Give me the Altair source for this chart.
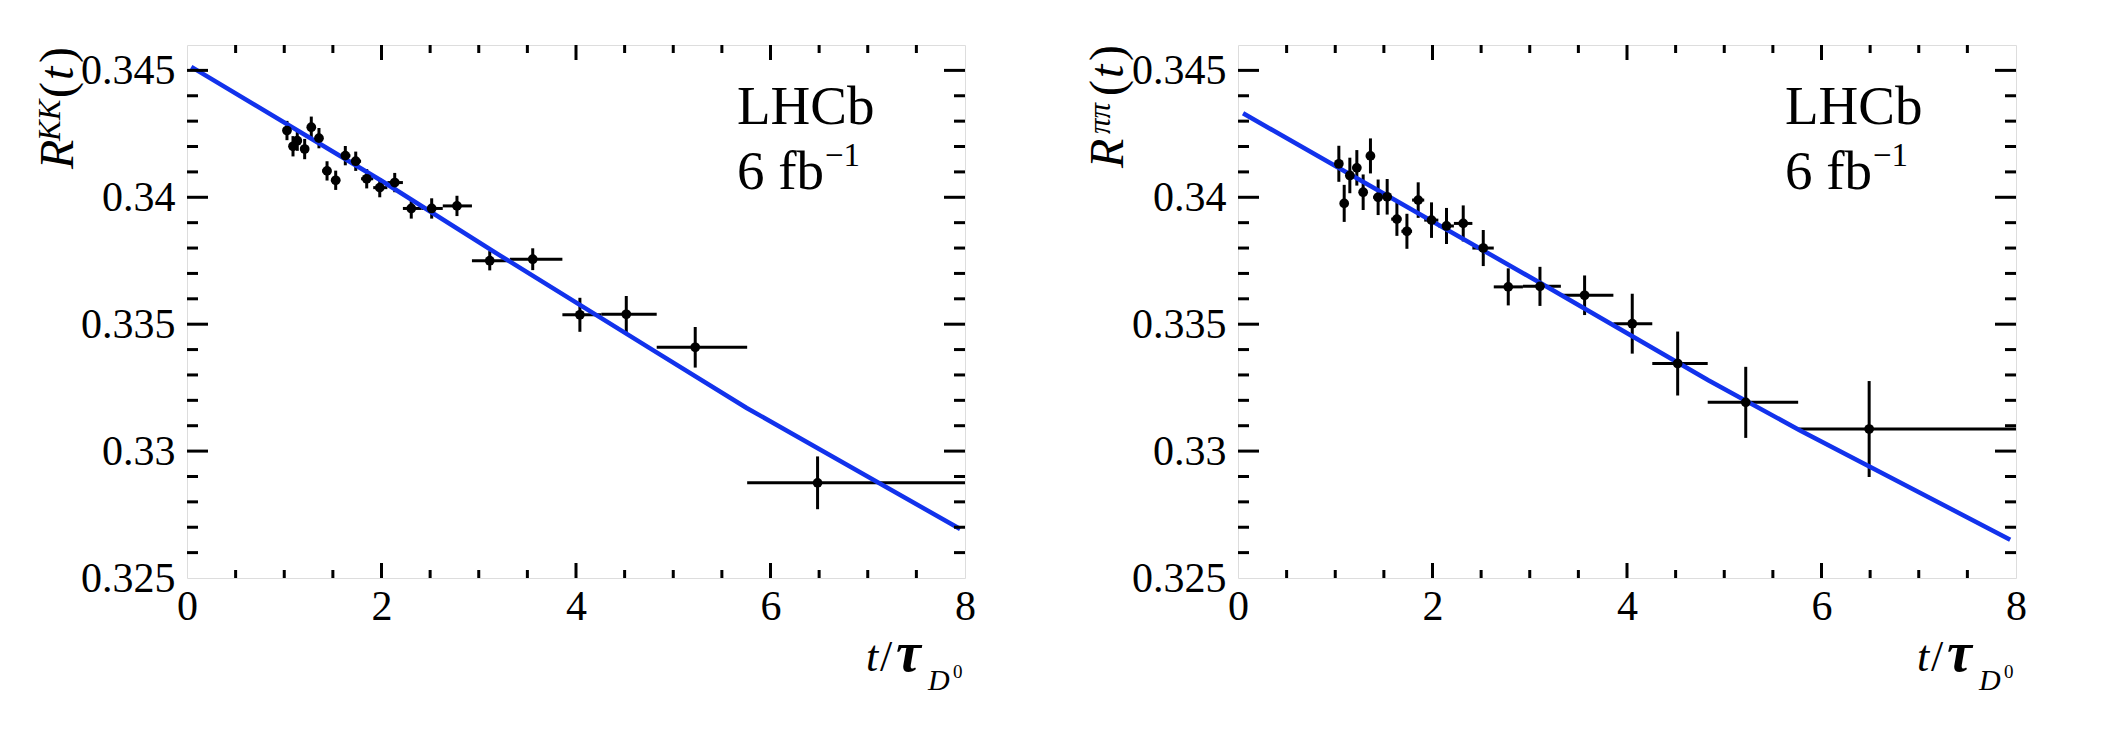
import altair as alt
import pandas as pd

# ---------------- data ----------------
bin_edges = [1.00, 1.06, 1.12, 1.18, 1.245, 1.315, 1.39, 1.48, 1.575, 1.68, 1.79,
             1.915, 2.06, 2.22, 2.41, 2.63, 2.93, 3.32, 3.86, 4.26, 4.83, 5.76, 8.0]

kk_t = [1.028, 1.090, 1.134, 1.210, 1.278, 1.357, 1.440, 1.529, 1.628, 1.735, 1.848,
        1.982, 2.136, 2.306, 2.516, 2.776, 3.113, 3.555, 4.040, 4.517, 5.226, 6.484]
kk_r = [0.34263, 0.34201, 0.34223, 0.34190, 0.34276, 0.34233, 0.34104, 0.34067, 0.34164,
        0.34142, 0.34073, 0.34038, 0.34058, 0.33956, 0.33956, 0.33966, 0.33750, 0.33756,
        0.33537, 0.33539, 0.33409, 0.32875]
kk_err = [0.00038, 0.00040, 0.00040, 0.00040, 0.00042, 0.00040, 0.00038, 0.00038, 0.00038,
          0.00038, 0.00038, 0.00038, 0.00038, 0.00040, 0.00040, 0.00040, 0.00038, 0.00043,
          0.00067, 0.00072, 0.00080, 0.00104]

pp_t = [1.037, 1.092, 1.150, 1.222, 1.287, 1.362, 1.441, 1.534, 1.634, 1.737, 1.853,
        1.990, 2.144, 2.316, 2.522, 2.779, 3.105, 3.564, 4.054, 4.521, 5.221, 6.490]
pp_r = [0.34132, 0.33976, 0.34086, 0.34116, 0.34020, 0.34163, 0.34000, 0.34002, 0.33914,
        0.33866, 0.33989, 0.33910, 0.33887, 0.33897, 0.33800, 0.33647, 0.33649, 0.33614,
        0.33502, 0.33345, 0.33192, 0.33087]
pp_err = [0.00071, 0.00073, 0.00070, 0.00070, 0.00070, 0.00069, 0.00070, 0.00070, 0.00066,
          0.00069, 0.00070, 0.00070, 0.00071, 0.00071, 0.00071, 0.00073, 0.00077, 0.00078,
          0.00118, 0.00126, 0.00140, 0.00189]

kk_fit_t = [0.044, 2.0, 3.2, 4.845, 5.755, 7.95]
kk_fit_r = [0.34514, 0.34065, 0.33775, 0.33385, 0.33170, 0.32693]
pp_fit_t = [0.052, 3.105, 4.836, 5.78, 7.94]
pp_fit_r = [0.34331, 0.33663, 0.33279, 0.33081, 0.32651]

x_labels = [0, 2, 4, 6, 8]
x_major = [2, 4, 6]
x_minor = [0.5, 1, 1.5, 2.5, 3, 3.5, 4.5, 5, 5.5, 6.5, 7, 7.5]
y_labels = [0.325, 0.33, 0.335, 0.34, 0.345]
y_major = [0.33, 0.335, 0.34, 0.345]
y_minor = [0.326, 0.327, 0.328, 0.329, 0.331, 0.332, 0.333, 0.334, 0.336, 0.337,
           0.338, 0.339, 0.341, 0.342, 0.343, 0.344]

# ---------------- style ----------------
W, H = 778, 533
FONT = "'Liberation Serif', 'Times New Roman', Times, serif"
BLUE = "#1232ec"
LW = 3
TICKFS = 42

xs = alt.Scale(domain=[0, 8], nice=False, zero=False)
ys = alt.Scale(domain=[0.325, 0.346], nice=False, zero=False)
xaxis = alt.Axis(values=x_labels, format="~g", labelFont=FONT, labelFontSize=TICKFS,
                 labelColor="black", labelPadding=8, ticks=False, domain=False,
                 grid=False, title=None, labelFlush=False, labelOverlap=False)
yaxis = alt.Axis(values=y_labels, format="~g", labelFont=FONT, labelFontSize=TICKFS,
                 labelColor="black", labelPadding=12, ticks=False, domain=False,
                 grid=False, title=None, labelOverlap=False)


def X(f):
    return alt.X(f, type="quantitative", scale=xs, axis=xaxis)


def Y(f):
    return alt.Y(f, type="quantitative", scale=ys, axis=yaxis)


one = pd.DataFrame({"k": [0]})


def txt(s, x, y, size, style="normal", weight="normal", angle=0, font=FONT):
    return alt.Chart(one).mark_text(
        text=s, align="left", baseline="alphabetic", font=font, fontSize=size,
        fontStyle=style, fontWeight=weight, angle=angle, color="black"
    ).encode(x=alt.value(x), y=alt.value(y))


def ticks():
    layers = []
    for vals, ln in ((x_major, 15), (x_minor, 8)):
        d = pd.DataFrame({"v": vals})
        layers.append(alt.Chart(d).mark_rule(color="black", strokeWidth=LW).encode(
            x=X("v"), y=alt.value(H), y2=alt.value(H - ln)))
        layers.append(alt.Chart(d).mark_rule(color="black", strokeWidth=LW).encode(
            x=X("v"), y=alt.value(0), y2=alt.value(ln)))
    for vals, ln in ((y_major, 21), (y_minor, 11)):
        d = pd.DataFrame({"v": vals})
        layers.append(alt.Chart(d).mark_rule(color="black", strokeWidth=LW).encode(
            y=Y("v"), x=alt.value(0), x2=alt.value(ln)))
        layers.append(alt.Chart(d).mark_rule(color="black", strokeWidth=LW).encode(
            y=Y("v"), x=alt.value(W), x2=alt.value(W - ln)))
    return layers


def panel(t, r, err, fit_t, fit_r, sup, ttl_x, sup_x, ttl_ys, lhcb_x):
    df = pd.DataFrame({
        "t": t, "r": r,
        "tlo": bin_edges[:-1], "thi": bin_edges[1:],
        "rlo": [a - b for a, b in zip(r, err)],
        "rhi": [a + b for a, b in zip(r, err)],
    })
    fit = pd.DataFrame({"t": fit_t, "r": fit_r})
    hbar = alt.Chart(df).mark_rule(color="black", strokeWidth=LW).encode(
        x=X("tlo"), x2="thi", y=Y("r"))
    vbar = alt.Chart(df).mark_rule(color="black", strokeWidth=LW).encode(
        x=X("t"), y=Y("rlo"), y2="rhi")
    pts = alt.Chart(df).mark_circle(color="black", size=95, opacity=1).encode(
        x=X("t"), y=Y("r"))
    line = alt.Chart(fit).mark_line(color=BLUE, strokeWidth=4.5).encode(
        x=X("t"), y=Y("r"), order="t")
    y0, y1, y2, y3, y4 = ttl_ys
    texts = [
        # y-axis title (rotated)
        txt("R", ttl_x, y0, 48, style="italic", angle=270),
        txt(sup, sup_x, y1, 31, style="italic", angle=270),
        txt("(", ttl_x, y2, 48, angle=270),
        txt("t", ttl_x, y3, 48, style="italic", angle=270),
        txt(")", ttl_x, y4, 48, angle=270),
        # x-axis title
        txt("t", 679, 626, 44, style="italic"),
        txt("/", 693, 626, 44),
        txt("τ", 709, 626, 56, style="italic", weight="bold"),
        txt("D", 741, 645, 30, style="italic"),
        txt("0", 766, 633, 19),
        # labels
        txt("LHCb", lhcb_x, 79, 55),
        txt("6 fb", lhcb_x, 144, 55),
        txt("\u22121", lhcb_x + 88, 121, 33),
    ]
    return alt.layer(hbar, vbar, line, pts, *ticks(), *texts).properties(width=W, height=H)


p1 = panel(kk_t, kk_r, kk_err, kk_fit_t, kk_fit_r, "KK", -114, -127, (124, 96, 53, 35, 18), 550)
p2 = panel(pp_t, pp_r, pp_err, pp_fit_t, pp_fit_r, "ππ", -115, -128, (123, 89, 51, 33, 16), 547)

chart = alt.hconcat(p1, p2, spacing=108).properties(
    padding={"left": 26, "top": 35, "right": 5, "bottom": 5}
).configure_view(stroke="black", strokeWidth=LW).configure(background="white")

chart.save("out.html", embed_options={"renderer": "svg", "actions": False})
